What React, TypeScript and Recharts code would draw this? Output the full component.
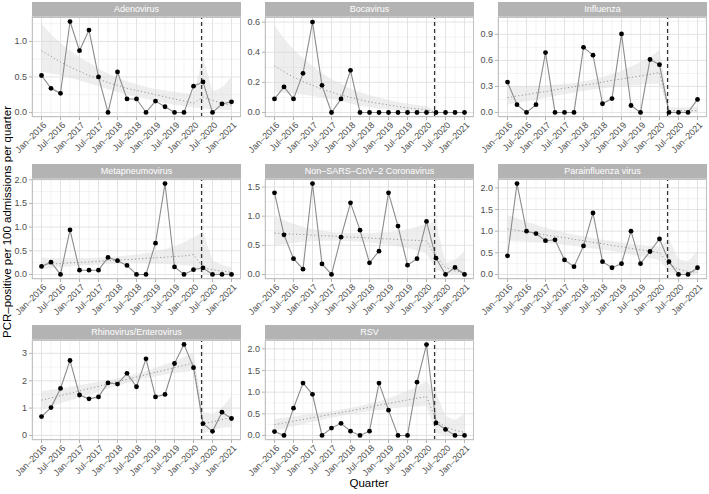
import React from "react";
import { ComposedChart, Line, Area, XAxis, YAxis, CartesianGrid, ReferenceLine } from "recharts";

// quarters Jan-2016 .. Jan-2021
const quarters = [
  "Jan–2016", "Apr–2016", "Jul–2016", "Oct–2016", "Jan–2017", "Apr–2017", "Jul–2017",
  "Oct–2017", "Jan–2018", "Apr–2018", "Jul–2018", "Oct–2018", "Jan–2019", "Apr–2019",
  "Jul–2019", "Oct–2019", "Jan–2020", "Apr–2020", "Jul–2020", "Oct–2020", "Jan–2021",
];
// dashed line: start of the pandemic measures (just before Apr-2020)
const breakIndex = 16.85;

const adenovirus = [0.52, 0.34, 0.27, 1.28, 0.87, 1.16, 0.5, 0, 0.57, 0.19, 0.19, 0, 0.16, 0.08, 0, 0, 0.37, 0.43, 0, 0.12, 0.15];
const adenovirusTrend = [0.87, 0.79, 0.71, 0.64, 0.58, 0.52, 0.47, 0.42, 0.38, 0.34, 0.31, 0.28, 0.25, 0.22, 0.19, 0.16, 0.13, 0.22, 0.17, 0.13, 0.1];
const adenovirusLow = [0.58, 0.55, 0.52, 0.49, 0.45, 0.41, 0.37, 0.33, 0.29, 0.25, 0.22, 0.19, 0.16, 0.13, 0.11, 0.09, 0.07, 0.06, 0.05, 0.04, 0.03];
const adenovirusHigh = [1.25, 1.1, 0.98, 0.87, 0.78, 0.7, 0.62, 0.55, 0.49, 0.44, 0.4, 0.36, 0.33, 0.31, 0.29, 0.27, 0.26, 0.78, 0.3, 0.35, 0.5];

const bocavirus = [0.09, 0.17, 0.09, 0.26, 0.6, 0.18, 0, 0.09, 0.28, 0, 0, 0, 0, 0, 0, 0, 0, 0, 0, 0, 0];
const bocavirusTrend = [0.31, 0.27, 0.235, 0.205, 0.18, 0.155, 0.135, 0.115, 0.1, 0.085, 0.07, 0.06, 0.05, 0.04, 0.03, 0.025, 0.02, 0, 0, 0, 0];
const bocavirusLow = [0.14, 0.13, 0.125, 0.12, 0.11, 0.1, 0.09, 0.075, 0.06, 0.045, 0.035, 0.025, 0.02, 0.013, 0.01, 0.005, 0.003, 0, 0, 0, 0];
const bocavirusHigh = [0.58, 0.49, 0.42, 0.36, 0.31, 0.26, 0.22, 0.19, 0.16, 0.135, 0.115, 0.1, 0.085, 0.07, 0.06, 0.05, 0.045, 0, 0, 0, 0];

const influenza = [0.35, 0.09, 0, 0.09, 0.69, 0, 0, 0, 0.75, 0.66, 0.1, 0.16, 0.905, 0.08, 0, 0.61, 0.55, 0, 0, 0, 0.15];
const influenzaTrend = [0.17, 0.19, 0.205, 0.225, 0.24, 0.26, 0.28, 0.295, 0.315, 0.33, 0.35, 0.37, 0.385, 0.405, 0.42, 0.44, 0.46, 0.02, 0.02, 0.02, 0.02];
const influenzaLow = [0.09, 0.11, 0.13, 0.15, 0.17, 0.19, 0.21, 0.23, 0.25, 0.265, 0.28, 0.29, 0.3, 0.31, 0.32, 0.33, 0.33, 0, 0, 0, 0];
const influenzaHigh = [0.3, 0.3, 0.3, 0.3, 0.31, 0.32, 0.33, 0.34, 0.36, 0.38, 0.41, 0.44, 0.48, 0.53, 0.58, 0.64, 0.72, 0.06, 0.06, 0.06, 0.06];

const metapneumovirus = [0.17, 0.26, 0, 0.94, 0.09, 0.09, 0.09, 0.36, 0.29, 0.19, 0, 0, 0.66, 1.92, 0.16, 0, 0.1, 0.14, 0, 0, 0];
const metapneumovirusTrend = [0.21, 0.22, 0.23, 0.245, 0.255, 0.265, 0.28, 0.29, 0.3, 0.315, 0.325, 0.34, 0.35, 0.365, 0.38, 0.39, 0.42, 0.15, 0.1, 0.07, 0.05];
const metapneumovirusLow = [0.11, 0.13, 0.15, 0.17, 0.19, 0.2, 0.21, 0.22, 0.22, 0.23, 0.23, 0.23, 0.22, 0.22, 0.21, 0.2, 0.18, 0.01, 0, 0, 0];
const metapneumovirusHigh = [0.36, 0.35, 0.35, 0.35, 0.35, 0.35, 0.36, 0.37, 0.38, 0.4, 0.42, 0.45, 0.49, 0.54, 0.6, 0.68, 0.78, 0.9, 0.3, 0.2, 0.15];

const coronavirus = [1.4, 0.68, 0.27, 0.09, 1.56, 0.18, 0, 0.64, 1.23, 0.76, 0.2, 0.4, 1.4, 0.83, 0.16, 0.27, 0.91, 0.28, 0, 0.12, 0];
const coronavirusTrend = [0.71, 0.7, 0.69, 0.685, 0.675, 0.665, 0.66, 0.65, 0.64, 0.635, 0.625, 0.615, 0.61, 0.6, 0.59, 0.585, 0.575, 0.3, 0.12, 0.06, 0.03];
const coronavirusLow = [0.5, 0.52, 0.54, 0.56, 0.57, 0.58, 0.58, 0.58, 0.57, 0.56, 0.55, 0.53, 0.51, 0.48, 0.45, 0.41, 0.36, 0.08, 0.02, 0, 0];
const coronavirusHigh = [1.0, 0.93, 0.87, 0.82, 0.78, 0.75, 0.73, 0.72, 0.71, 0.71, 0.71, 0.72, 0.73, 0.75, 0.78, 0.82, 0.87, 0.9, 0.2, 0.25, 0.4];

const parainfluenza = [0.43, 2.1, 1.0, 0.945, 0.78, 0.8, 0.335, 0.18, 0.66, 1.42, 0.295, 0.155, 0.25, 1.0, 0.25, 0.53, 0.82, 0.295, 0, 0, 0.155];
const parainfluenzaTrend = [1.05, 1.02, 0.98, 0.95, 0.91, 0.88, 0.85, 0.81, 0.78, 0.74, 0.71, 0.67, 0.64, 0.6, 0.57, 0.54, 0.5, 0.25, 0.12, 0.07, 0.05];
const parainfluenzaLow = [0.78, 0.77, 0.76, 0.75, 0.73, 0.71, 0.68, 0.66, 0.63, 0.6, 0.57, 0.54, 0.5, 0.46, 0.42, 0.38, 0.33, 0.05, 0, 0, 0];
const parainfluenzaHigh = [1.38, 1.3, 1.22, 1.15, 1.08, 1.02, 0.97, 0.92, 0.88, 0.84, 0.8, 0.77, 0.74, 0.71, 0.68, 0.66, 0.64, 0.82, 0.35, 0.3, 0.55];

const rhinovirus = [0.69, 1.02, 1.72, 2.74, 1.48, 1.34, 1.41, 1.92, 1.88, 2.27, 1.78, 2.8, 1.41, 1.5, 2.63, 3.33, 2.48, 0.435, 0.15, 0.85, 0.62];
const rhinovirusTrend = [1.29, 1.37, 1.46, 1.54, 1.63, 1.71, 1.8, 1.88, 1.97, 2.05, 2.14, 2.22, 2.31, 2.39, 2.48, 2.56, 2.65, 0.42, 0.5, 0.58, 0.66];
const rhinovirusLow = [0.98, 1.08, 1.18, 1.29, 1.39, 1.5, 1.6, 1.71, 1.82, 1.92, 2.01, 2.09, 2.16, 2.23, 2.28, 2.33, 2.37, 0.08, 0.2, 0.28, 0.3];
const rhinovirusHigh = [1.62, 1.67, 1.72, 1.78, 1.84, 1.9, 1.96, 2.02, 2.09, 2.17, 2.26, 2.36, 2.47, 2.59, 2.72, 2.86, 3.02, 0.85, 0.8, 1.0, 1.45];

const rsv = [0.09, 0, 0.63, 1.21, 0.95, 0, 0.17, 0.28, 0.1, 0, 0.1, 1.21, 0.585, 0, 0, 1.23, 2.1, 0.29, 0.14, 0, 0];
const rsvTrend = [0.25, 0.29, 0.33, 0.37, 0.41, 0.45, 0.49, 0.53, 0.57, 0.61, 0.65, 0.7, 0.74, 0.78, 0.82, 0.86, 0.9, 0.35, 0.2, 0.12, 0.07];
const rsvLow = [0.12, 0.16, 0.21, 0.26, 0.31, 0.36, 0.41, 0.45, 0.49, 0.53, 0.56, 0.59, 0.62, 0.64, 0.66, 0.67, 0.68, 0.05, 0, 0, 0];
const rsvHigh = [0.38, 0.41, 0.44, 0.47, 0.5, 0.53, 0.56, 0.6, 0.64, 0.68, 0.73, 0.79, 0.86, 0.94, 1.03, 1.13, 1.25, 1.0, 0.45, 0.35, 0.5];

const panels = [
  { title: "Adenovirus", values: adenovirus, trend: adenovirusTrend, low: adenovirusLow, high: adenovirusHigh,
    domain: [-0.064, 1.344], major: [0, 0.5, 1], minor: [0.25, 0.75, 1.25], digits: 1 },
  { title: "Bocavirus", values: bocavirus, trend: bocavirusTrend, low: bocavirusLow, high: bocavirusHigh,
    domain: [-0.03, 0.634], major: [0, 0.2, 0.4, 0.6], minor: [0.1, 0.3, 0.5], digits: 1 },
  { title: "Influenza", values: influenza, trend: influenzaTrend, low: influenzaLow, high: influenzaHigh,
    domain: [-0.0525, 1.1], major: [0, 0.3, 0.6, 0.9], minor: [0.15, 0.45, 0.75, 1.05], digits: 1 },
  { title: "Metapneumovirus", values: metapneumovirus, trend: metapneumovirusTrend, low: metapneumovirusLow, high: metapneumovirusHigh,
    domain: [-0.096, 2.016], major: [0, 0.5, 1, 1.5, 2], minor: [0.25, 0.75, 1.25, 1.75], digits: 1 },
  { title: "Non–SARS–CoV–2 Coronavirus", values: coronavirus, trend: coronavirusTrend, low: coronavirusLow, high: coronavirusHigh,
    domain: [-0.078, 1.638], major: [0, 0.5, 1, 1.5], minor: [0.25, 0.75, 1.25], digits: 1 },
  { title: "Parainfluenza virus", values: parainfluenza, trend: parainfluenzaTrend, low: parainfluenzaLow, high: parainfluenzaHigh,
    domain: [-0.105, 2.205], major: [0, 0.5, 1, 1.5, 2], minor: [0.25, 0.75, 1.25, 1.75], digits: 1 },
  { title: "Rhinovirus/Enterovirus", values: rhinovirus, trend: rhinovirusTrend, low: rhinovirusLow, high: rhinovirusHigh,
    domain: [-0.166, 3.49], major: [0, 1, 2, 3], minor: [0.5, 1.5, 2.5], digits: 0 },
  { title: "RSV", values: rsv, trend: rsvTrend, low: rsvLow, high: rsvHigh,
    domain: [-0.105, 2.205], major: [0, 0.5, 1, 1.5, 2], minor: [0.25, 0.75, 1.25, 1.75], digits: 1 },
];

const FONT = "'Liberation Sans', Arial, Helvetica, sans-serif";
const colLeft = [32, 265, 498];
const rowTop = [17, 178.5, 339.5];
const PANEL_W = 209;
const PANEL_H = 100;
const STRIP_H = 15;
const Y_AXIS_W = 32;
const X_AXIS_H = 42;
const PAD_TOP = 8;

const majorX = quarters.map((_, i) => i).filter((i) => i % 2 === 0);
const minorX = quarters.map((_, i) => i).filter((i) => i % 2 === 1);

const XTick = ({ x, y, payload }: any) => (
  <g transform={`translate(${x},${y})`}>
    <line x1={0} y1={0} x2={0} y2={3} stroke="#b3b3b3" />
    <text
      transform="translate(1,4) rotate(-45)"
      textAnchor="end"
      dy="0.72em"
      fontSize={9}
      fontFamily={FONT}
      fill="#4d4d4d"
    >
      {quarters[payload.value]}
    </text>
  </g>
);

function Panel({ p, idx }: { p: any; idx: number }) {
  const left = colLeft[idx % 3];
  const top = rowTop[Math.floor(idx / 3)];
  const data = p.values.map((v: number, i: number) => ({
    i,
    v,
    trend: p.trend[i],
    band: [p.low[i], p.high[i]],
  }));

  const YTick = ({ x, y, payload }: any) => (
    <g>
      <line x1={x - 3} x2={x} y1={y} y2={y} stroke="#b3b3b3" />
      <text x={x - 5} y={y} textAnchor="end" dominantBaseline="central" fontSize={9} fontFamily={FONT} fill="#4d4d4d">
        {Number(payload.value).toFixed(p.digits)}
      </text>
    </g>
  );

  return (
    <>
      <div
        style={{
          position: "absolute", left, top: top - STRIP_H, width: PANEL_W, height: STRIP_H,
          background: "#b3b3b3", color: "#fff", fontSize: 9, lineHeight: `${STRIP_H}px`, textAlign: "center",
        }}
      >
        {p.title}
      </div>
      <div style={{ position: "absolute", left: left - Y_AXIS_W, top: top - PAD_TOP }}>
        <ComposedChart width={Y_AXIS_W + PANEL_W} height={PAD_TOP + PANEL_H + X_AXIS_H} data={data}
          margin={{ top: PAD_TOP, right: 0, bottom: 0, left: 0 }}>
          <CartesianGrid stroke="#eeeeee" strokeWidth={0.7} horizontalValues={p.minor} verticalValues={minorX} />
          <CartesianGrid stroke="#e0e0e0" strokeWidth={0.9} />
          <XAxis type="number" dataKey="i" domain={[-1, 21]} ticks={majorX} interval={0} allowDataOverflow
            tick={XTick} tickLine={false} axisLine={false} tickSize={0} tickMargin={0} height={X_AXIS_H} />
          <YAxis type="number" domain={p.domain} ticks={p.major} interval={0} allowDataOverflow
            tick={YTick} tickLine={false} axisLine={false} tickSize={0} tickMargin={0} width={Y_AXIS_W} />
          <Area type="linear" dataKey="band" stroke="none" fill="#d9d9d9" fillOpacity={0.45} isAnimationActive={false} />
          <Line type="linear" dataKey="trend" stroke="#8a8a8a" strokeWidth={0.9} strokeDasharray="1.2 2.4"
            dot={false} isAnimationActive={false} />
          <Line type="linear" dataKey="v" stroke="#8c8c8c" strokeWidth={1.1}
            dot={{ r: 2.4, fill: "#000", stroke: "#000", strokeWidth: 0 }} isAnimationActive={false} />
          <ReferenceLine x={breakIndex} stroke="#333" strokeWidth={1.3} strokeDasharray="4 3" />
        </ComposedChart>
      </div>
      <div
        style={{
          position: "absolute", left, top, width: PANEL_W, height: PANEL_H,
          border: "1px solid #c2c2c2", boxSizing: "border-box", pointerEvents: "none",
        }}
      />
    </>
  );
}

export default function App() {
  return (
    <div style={{ position: "absolute", left: 0, top: 0, width: 709, height: 494, background: "#fff", fontFamily: FONT, overflow: "hidden" }}>
      {panels.map((p, idx) => (
        <Panel key={p.title} p={p} idx={idx} />
      ))}
      <svg width={709} height={494} style={{ position: "absolute", left: 0, top: 0, pointerEvents: "none" }}>
        <text transform="translate(11,222) rotate(-90)" textAnchor="middle" fontSize={11.5} fontFamily={FONT} fill="#000">
          PCR–positive per 100 admissions per quarter
        </text>
        <text x={369} y={487} textAnchor="middle" fontSize={11.5} fontFamily={FONT} fill="#000">
          Quarter
        </text>
      </svg>
    </div>
  );
}
